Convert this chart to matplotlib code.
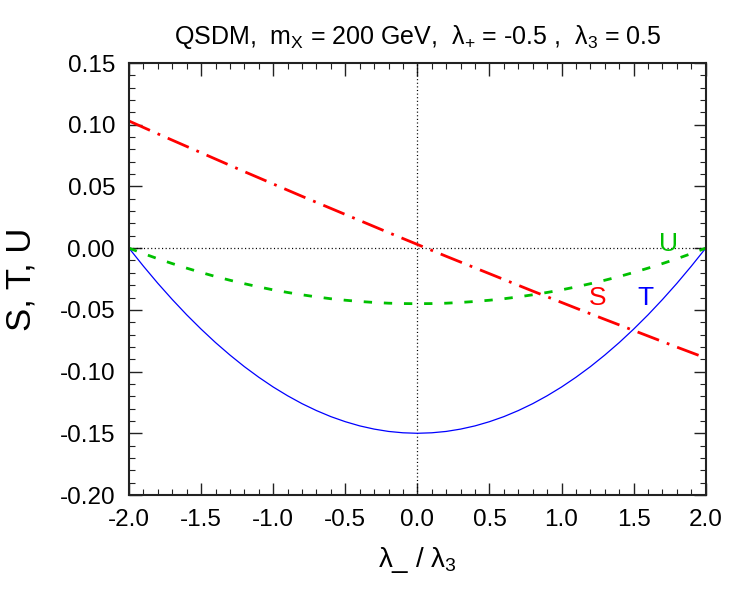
import matplotlib
matplotlib.use("Agg")
import matplotlib.pyplot as plt
from matplotlib.ticker import MultipleLocator, FormatStrFormatter

plt.rcParams['font.family'] = ['Liberation Sans', 'DejaVu Sans']
plt.rcParams['mathtext.fontset'] = 'custom'
plt.rcParams['mathtext.rm'] = 'Liberation Sans'
plt.rcParams['mathtext.it'] = 'Liberation Sans'
plt.rcParams['lines.scale_dashes'] = False

x_vals = [-2.0, -1.9, -1.8, -1.7, -1.6, -1.5, -1.4, -1.3, -1.2, -1.1, -1.0,
          -0.9, -0.8, -0.7, -0.6, -0.5, -0.4, -0.3, -0.2, -0.1, 0.0,
          0.1, 0.2, 0.3, 0.4, 0.5, 0.6, 0.7, 0.8, 0.9, 1.0,
          1.1, 1.2, 1.3, 1.4, 1.5, 1.6, 1.7, 1.8, 1.9, 2.0]

S_vals = [0.1030, 0.0978, 0.0926, 0.0875, 0.0824, 0.0773, 0.0722, 0.0671, 0.0620, 0.0570, 0.0520,
          0.0470, 0.0420, 0.0371, 0.0322, 0.0273, 0.0224, 0.0175, 0.0126, 0.0078, 0.0030,
          -0.0018, -0.0066, -0.0113, -0.0160, -0.0207, -0.0254, -0.0301, -0.0348, -0.0394, -0.0440,
          -0.0486, -0.0532, -0.0577, -0.0622, -0.0667, -0.0712, -0.0757, -0.0802, -0.0846, -0.0890]

T_vals = [0.0, -0.0146, -0.0285, -0.0416, -0.0540, -0.0656, -0.0765, -0.0866, -0.0960, -0.1046, -0.1125,
          -0.1196, -0.1260, -0.1316, -0.1365, -0.1406, -0.1440, -0.1466, -0.1485, -0.1496, -0.1500,
          -0.1496, -0.1485, -0.1466, -0.1440, -0.1406, -0.1365, -0.1316, -0.1260, -0.1196, -0.1125,
          -0.1046, -0.0960, -0.0866, -0.0765, -0.0656, -0.0540, -0.0416, -0.0285, -0.0146, 0.0]

U_vals = [0.0, -0.0044, -0.0086, -0.0125, -0.0162, -0.0197, -0.0230, -0.0260, -0.0288, -0.0314, -0.0338,
          -0.0359, -0.0378, -0.0395, -0.0410, -0.0422, -0.0432, -0.0440, -0.0446, -0.0449, -0.0450,
          -0.0449, -0.0446, -0.0440, -0.0432, -0.0422, -0.0410, -0.0395, -0.0378, -0.0359, -0.0338,
          -0.0314, -0.0288, -0.0260, -0.0230, -0.0197, -0.0162, -0.0125, -0.0086, -0.0044, 0.0]

title_text = "QSDM,  m$_{\\rm X}$ = 200 GeV,  λ$_{+}$ = -0.5 ,  λ$_{3}$ = 0.5"
xlabel_text = "λ_ / λ$_{3}$"
ylabel_text = "S, T, U"

fig = plt.figure(figsize=(7.5, 6.0), dpi=100)
ax = fig.add_axes([0.172, 0.175, 0.769, 0.720])

ax.axhline(0.0, color='black', lw=0.9, dashes=(0.8, 1.8))
ax.axvline(0.0, color='black', lw=0.9, dashes=(0.8, 1.8))

ax.plot(x_vals, T_vals, color='#0000ff', lw=0.9)
ax.plot(x_vals, U_vals, color='#00c000', lw=2.0, dashes=(6.0, 8.5))
ax.plot(x_vals, S_vals, color='#ff0000', lw=2.0, dashes=(16.5, 6.0, 2.0, 6.0))

ax.text(1.25, -0.040, "S", color='#ff0000', fontsize=19, ha='center', va='center')
ax.text(1.58, -0.040, "T", color='#0000ff', fontsize=19, ha='center', va='center')
ax.text(1.74, 0.003, "U", color='#00c000', fontsize=19, ha='center', va='center')

ax.set_xlim(-2.0, 2.0)
ax.set_ylim(-0.20, 0.15)
ax.xaxis.set_major_locator(MultipleLocator(0.5))
ax.xaxis.set_minor_locator(MultipleLocator(0.1))
ax.yaxis.set_major_locator(MultipleLocator(0.05))
ax.yaxis.set_minor_locator(MultipleLocator(0.01))
ax.xaxis.set_major_formatter(FormatStrFormatter('%.1f'))
ax.yaxis.set_major_formatter(FormatStrFormatter('%.2f'))

ax.tick_params(which='both', direction='in', top=True, right=True, color='#222222')
ax.tick_params(which='major', length=9, width=1.0, labelsize=17.5, pad=10)
ax.tick_params(which='minor', length=4.5, width=0.8)
for sp in ax.spines.values():
    sp.set_linewidth(1.5)
    sp.set_color('#222222')

ax.set_title(title_text, fontsize=18, pad=14)
ax.set_xlabel(xlabel_text, fontsize=20, labelpad=10)
ax.set_ylabel(ylabel_text, fontsize=25)
ax.yaxis.set_label_coords(-0.158, 0.5)

fig.savefig("out.png", dpi=100)
